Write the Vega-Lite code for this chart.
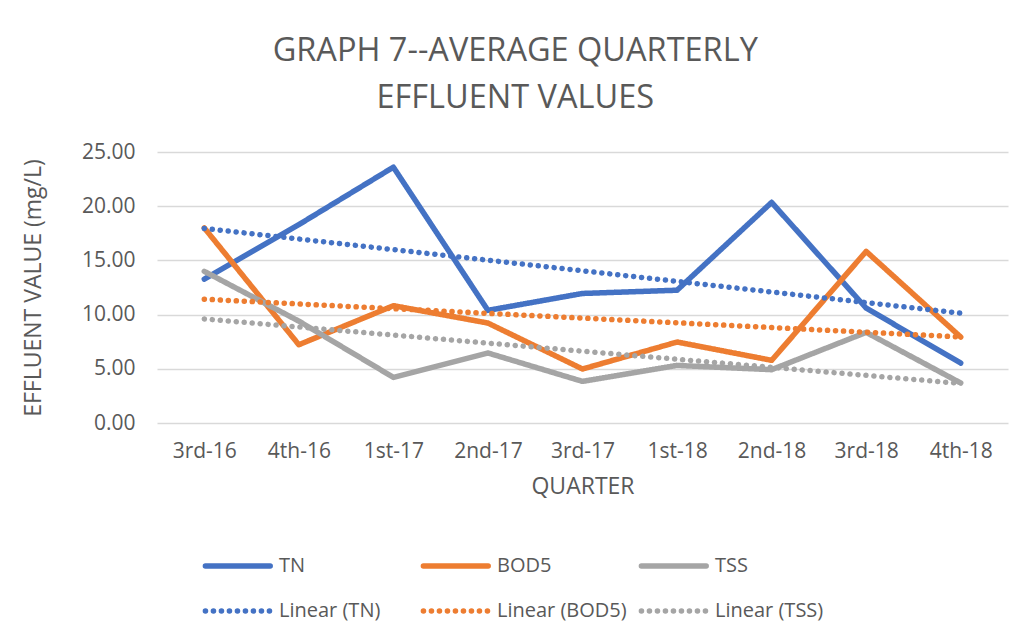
{
  "$schema": "https://vega.github.io/schema/vega-lite/v6.json",
  "width": 851,
  "height": 271,
  "autosize": "none",
  "padding": {"left": 157, "top": 152, "right": 18, "bottom": 214},
  "background": "white",
  "title": {
    "text": ["GRAPH 7--AVERAGE QUARTERLY", "EFFLUENT VALUES"],
    "frame": "bounds",
    "anchor": "middle",
    "font": "Open Sans",
    "fontSize": 32.5,
    "fontWeight": "normal",
    "color": "#595959",
    "lineHeight": 47,
    "offset": 27
  },
  "data": {
    "values": [
      {"q": "3rd-16", "series": "TN", "v": 13.28},
      {"q": "4th-16", "series": "TN", "v": 18.3},
      {"q": "1st-17", "series": "TN", "v": 23.6},
      {"q": "2nd-17", "series": "TN", "v": 10.39},
      {"q": "3rd-17", "series": "TN", "v": 11.95},
      {"q": "1st-18", "series": "TN", "v": 12.25},
      {"q": "2nd-18", "series": "TN", "v": 20.35},
      {"q": "3rd-18", "series": "TN", "v": 10.6},
      {"q": "4th-18", "series": "TN", "v": 5.53},
      {"q": "3rd-16", "series": "BOD5", "v": 18.0},
      {"q": "4th-16", "series": "BOD5", "v": 7.22},
      {"q": "1st-17", "series": "BOD5", "v": 10.82},
      {"q": "2nd-17", "series": "BOD5", "v": 9.22},
      {"q": "3rd-17", "series": "BOD5", "v": 4.98},
      {"q": "1st-18", "series": "BOD5", "v": 7.47},
      {"q": "2nd-18", "series": "BOD5", "v": 5.78},
      {"q": "3rd-18", "series": "BOD5", "v": 15.83},
      {"q": "4th-18", "series": "BOD5", "v": 7.93},
      {"q": "3rd-16", "series": "TSS", "v": 13.99},
      {"q": "4th-16", "series": "TSS", "v": 9.4},
      {"q": "1st-17", "series": "TSS", "v": 4.21},
      {"q": "2nd-17", "series": "TSS", "v": 6.46},
      {"q": "3rd-17", "series": "TSS", "v": 3.84},
      {"q": "1st-18", "series": "TSS", "v": 5.31},
      {"q": "2nd-18", "series": "TSS", "v": 4.92},
      {"q": "3rd-18", "series": "TSS", "v": 8.36},
      {"q": "4th-18", "series": "TSS", "v": 3.69},
      {"q": "3rd-16", "series": "Linear (TN)", "v": 17.95},
      {"q": "4th-18", "series": "Linear (TN)", "v": 10.13},
      {"q": "3rd-16", "series": "Linear (BOD5)", "v": 11.42},
      {"q": "4th-18", "series": "Linear (BOD5)", "v": 7.94},
      {"q": "3rd-16", "series": "Linear (TSS)", "v": 9.6},
      {"q": "4th-18", "series": "Linear (TSS)", "v": 3.65}
    ]
  },
  "mark": {"type": "line", "strokeCap": "round", "strokeJoin": "round"},
  "encoding": {
    "x": {
      "field": "q",
      "type": "nominal",
      "sort": null,
      "scale": {
        "type": "point",
        "padding": 0.5,
        "domain": ["3rd-16", "4th-16", "1st-17", "2nd-17", "3rd-17", "1st-18", "2nd-18", "3rd-18", "4th-18"]
      },
      "axis": {
        "title": "QUARTER",
        "labelAngle": 0,
        "ticks": false,
        "domain": false,
        "grid": false,
        "labelFont": "Open Sans",
        "labelFontSize": 21,
        "labelColor": "#595959",
        "labelPadding": 17,
        "titleFont": "Open Sans",
        "titleFontSize": 23,
        "titleFontWeight": "normal",
        "titleColor": "#595959",
        "titlePadding": 14
      }
    },
    "y": {
      "field": "v",
      "type": "quantitative",
      "scale": {"domain": [0, 25], "nice": false, "zero": true},
      "axis": {
        "title": "EFFLUENT VALUE (mg/L)",
        "values": [0, 5, 10, 15, 20, 25],
        "format": ".2f",
        "ticks": false,
        "domain": false,
        "gridColor": "#d9d9d9",
        "gridWidth": 1.5,
        "labelFont": "Open Sans",
        "labelFontSize": 21,
        "labelColor": "#595959",
        "labelPadding": 22,
        "titleFont": "Open Sans",
        "titleFontSize": 23,
        "titleFontWeight": "normal",
        "titleColor": "#595959",
        "titlePadding": 36
      }
    },
    "color": {
      "field": "series",
      "type": "nominal",
      "scale": {
        "domain": ["TN", "BOD5", "TSS", "Linear (TN)", "Linear (BOD5)", "Linear (TSS)"],
        "range": ["#4472C4", "#ED7D31", "#A5A5A5", "#4472C4", "#ED7D31", "#A5A5A5"]
      },
      "legend": {
        "title": null,
        "orient": "none",
        "direction": "horizontal",
        "legendX": 43,
        "legendY": 399,
        "columns": 3,
        "gridAlign": "all",
        "columnPadding": 3,
        "rowPadding": 19,
        "symbolType": "M-0.8,0H4.6",
        "symbolSize": 576,
        "labelOffset": 49,
        "labelFont": "Open Sans",
        "labelFontSize": 20,
        "labelColor": "#595959",
        "labelLimit": 300,
        "encode": {"symbols": {"update": {"strokeCap": {"value": "round"}}}}
      }
    },
    "strokeDash": {
      "field": "series",
      "type": "nominal",
      "scale": {
        "domain": ["TN", "BOD5", "TSS", "Linear (TN)", "Linear (BOD5)", "Linear (TSS)"],
        "range": [[1, 0], [1, 0], [1, 0], [0.1, 7.9], [0.1, 7.9], [0.1, 7.9]]
      },
      "legend": {
        "title": null,
        "orient": "none",
        "direction": "horizontal",
        "legendX": 43,
        "legendY": 399,
        "columns": 3,
        "gridAlign": "all",
        "columnPadding": 3,
        "rowPadding": 19,
        "symbolType": "M-0.8,0H4.6",
        "symbolSize": 576,
        "labelOffset": 49,
        "labelFont": "Open Sans",
        "labelFontSize": 20,
        "labelColor": "#595959",
        "labelLimit": 300,
        "encode": {"symbols": {"update": {"strokeCap": {"value": "round"}}}}
      }
    },
    "strokeWidth": {
      "field": "series",
      "type": "ordinal",
      "scale": {
        "domain": ["TN", "BOD5", "TSS", "Linear (TN)", "Linear (BOD5)", "Linear (TSS)"],
        "range": [5.5, 5.5, 5.5, 3.8, 3.8, 3.8]
      },
      "legend": {
        "title": null,
        "orient": "none",
        "direction": "horizontal",
        "legendX": 43,
        "legendY": 399,
        "columns": 3,
        "gridAlign": "all",
        "columnPadding": 3,
        "rowPadding": 19,
        "symbolType": "M-0.8,0H4.6",
        "symbolSize": 576,
        "labelOffset": 49,
        "labelFont": "Open Sans",
        "labelFontSize": 20,
        "labelColor": "#595959",
        "labelLimit": 300,
        "encode": {"symbols": {"update": {"strokeCap": {"value": "round"}}}}
      }
    }
  },
  "config": {
    "view": {"stroke": null},
    "legend": {"symbolStrokeColor": null}
  }
}
